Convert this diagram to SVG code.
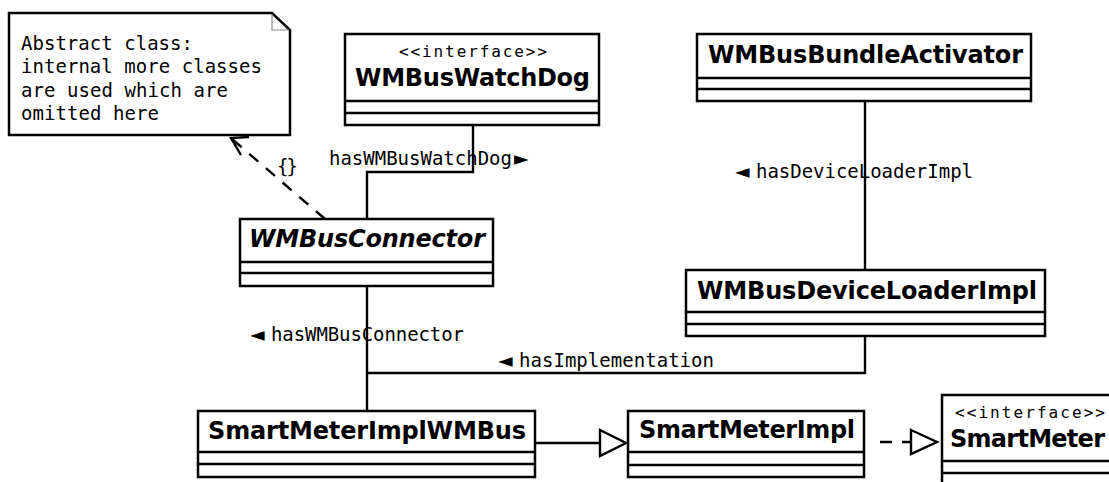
<svg xmlns="http://www.w3.org/2000/svg" width="1109" height="482" viewBox="0 0 1109 482">
  <style>
    .box { fill: #ffffff; stroke: #000000; stroke-width: 2.5; }
    .div { fill: none; stroke: #000000; stroke-width: 2.5; }
    .line { fill: none; stroke: #000000; stroke-width: 2.4; }
    .dash { fill: none; stroke: #000000; stroke-width: 2.4; stroke-dasharray: 12 10; }
    .fold { fill: none; stroke: #888888; stroke-width: 1.2; }
    .name { font-family: "DejaVu Sans", sans-serif; font-weight: bold; font-size: 24px; fill: #000000; }
    .abstract { font-style: italic; }
    .stereo { font-family: "DejaVu Sans Mono", monospace; font-size: 16px; fill: #000000; }
    .mono { font-family: "DejaVu Sans Mono", monospace; font-size: 19px; fill: #000000; }
    .tri { font-family: "DejaVu Sans", sans-serif; font-size: 19px; }
    .head { fill: #ffffff; stroke: #000000; stroke-width: 2.4; }
  </style>

  <!-- connectors -->
  <g id="connectors">
    <!-- note dependency -->
    <line class="dash" x1="325" y1="219" x2="232" y2="139"/>
    <polyline class="line" points="249,137 231,138 241,155"/>
    <text class="mono" x="277" y="173" textLength="21" lengthAdjust="spacing">{}</text>
    <!-- WMBusConnector -> WMBusWatchDog -->
    <polyline class="line" points="473,125 473,172 367,172 367,219"/>
    <text class="mono" x="329" y="165"><tspan textLength="183" lengthAdjust="spacing">hasWMBusWatchDog</tspan><tspan class="tri" x="514">►</tspan></text>
    <!-- WMBusBundleActivator -> WMBusDeviceLoaderImpl -->
    <line class="line" x1="865" y1="101" x2="865" y2="270"/>
    <text class="mono" y="178"><tspan class="tri" x="735">◄</tspan><tspan x="756" textLength="217" lengthAdjust="spacing">hasDeviceLoaderImpl</tspan></text>
    <!-- WMBusConnector -> SmartMeterImplWMBus -->
    <line class="line" x1="367" y1="286" x2="367" y2="411"/>
    <text class="mono" y="341"><tspan class="tri" x="250">◄</tspan><tspan x="271" textLength="193" lengthAdjust="spacing">hasWMBusConnector</tspan></text>
    <!-- WMBusDeviceLoaderImpl -> SmartMeterImplWMBus -->
    <polyline class="line" points="865,336 865,373 367,373"/>
    <text class="mono" y="367"><tspan class="tri" x="498">◄</tspan><tspan x="519" textLength="195" lengthAdjust="spacing">hasImplementation</tspan></text>
    <!-- generalization -->
    <line class="line" x1="535" y1="443" x2="600" y2="443"/>
    <polygon class="head" points="600,430 626,443 600,456"/>
    <!-- realization -->
    <line class="dash" x1="880" y1="442" x2="911" y2="442"/>
    <polygon class="head" points="911,430 937,442 911,454"/>
  </g>

  <!-- note -->
  <g id="note">
    <path class="box" d="M9,13 H272 L290,30 V135 H9 Z"/>
    <polyline class="fold" points="272,14 272,30 289,30"/>
    <text class="mono" x="21" y="50" textLength="172" lengthAdjust="spacing">Abstract class:</text>
    <text class="mono" x="21" y="73" textLength="241" lengthAdjust="spacing">internal more classes</text>
    <text class="mono" x="21" y="97" textLength="207" lengthAdjust="spacing">are used which are</text>
    <text class="mono" x="21" y="120" textLength="138" lengthAdjust="spacing">omitted here</text>
  </g>

  <g id="WMBusWatchDog">
    <rect class="box" x="345" y="34" width="254" height="91"/>
    <line class="div" x1="345" y1="101" x2="599" y2="101"/>
    <line class="div" x1="345" y1="113" x2="599" y2="113"/>
    <text class="stereo" x="399" y="57" textLength="148" lengthAdjust="spacing">&lt;&lt;interface&gt;&gt;</text>
    <text class="name" x="355" y="86" textLength="235" lengthAdjust="spacing">WMBusWatchDog</text>
  </g>

  <g id="WMBusBundleActivator">
    <rect class="box" x="697" y="34" width="334" height="67"/>
    <line class="div" x1="697" y1="78" x2="1031" y2="78"/>
    <line class="div" x1="697" y1="89" x2="1031" y2="89"/>
    <text class="name" x="708" y="63" textLength="315" lengthAdjust="spacing">WMBusBundleActivator</text>
  </g>

  <g id="WMBusConnector">
    <rect class="box" x="240" y="219" width="253" height="67"/>
    <line class="div" x1="240" y1="262" x2="493" y2="262"/>
    <line class="div" x1="240" y1="273" x2="493" y2="273"/>
    <text class="name abstract" x="249" y="247" textLength="236" lengthAdjust="spacing">WMBusConnector</text>
  </g>

  <g id="WMBusDeviceLoaderImpl">
    <rect class="box" x="686" y="270" width="359" height="66"/>
    <line class="div" x1="686" y1="312" x2="1045" y2="312"/>
    <line class="div" x1="686" y1="324" x2="1045" y2="324"/>
    <text class="name" x="697" y="299" textLength="340" lengthAdjust="spacing">WMBusDeviceLoaderImpl</text>
  </g>

  <g id="SmartMeterImplWMBus">
    <rect class="box" x="198" y="411" width="337" height="66"/>
    <line class="div" x1="198" y1="452" x2="535" y2="452"/>
    <line class="div" x1="198" y1="464" x2="535" y2="464"/>
    <text class="name" x="208" y="439" textLength="318" lengthAdjust="spacing">SmartMeterImplWMBus</text>
  </g>

  <g id="SmartMeterImpl">
    <rect class="box" x="628" y="411" width="236" height="66"/>
    <line class="div" x1="628" y1="452" x2="864" y2="452"/>
    <line class="div" x1="628" y1="465" x2="864" y2="465"/>
    <text class="name" x="639" y="438" textLength="216" lengthAdjust="spacing">SmartMeterImpl</text>
  </g>

  <g id="SmartMeter">
    <rect class="box" x="942" y="395" width="174" height="95"/>
    <line class="div" x1="942" y1="461" x2="1116" y2="461"/>
    <line class="div" x1="942" y1="473" x2="1116" y2="473"/>
    <text class="stereo" x="955" y="418" textLength="150" lengthAdjust="spacing">&lt;&lt;interface&gt;&gt;</text>
    <text class="name" x="950" y="447" textLength="155" lengthAdjust="spacing">SmartMeter</text>
  </g>
</svg>
